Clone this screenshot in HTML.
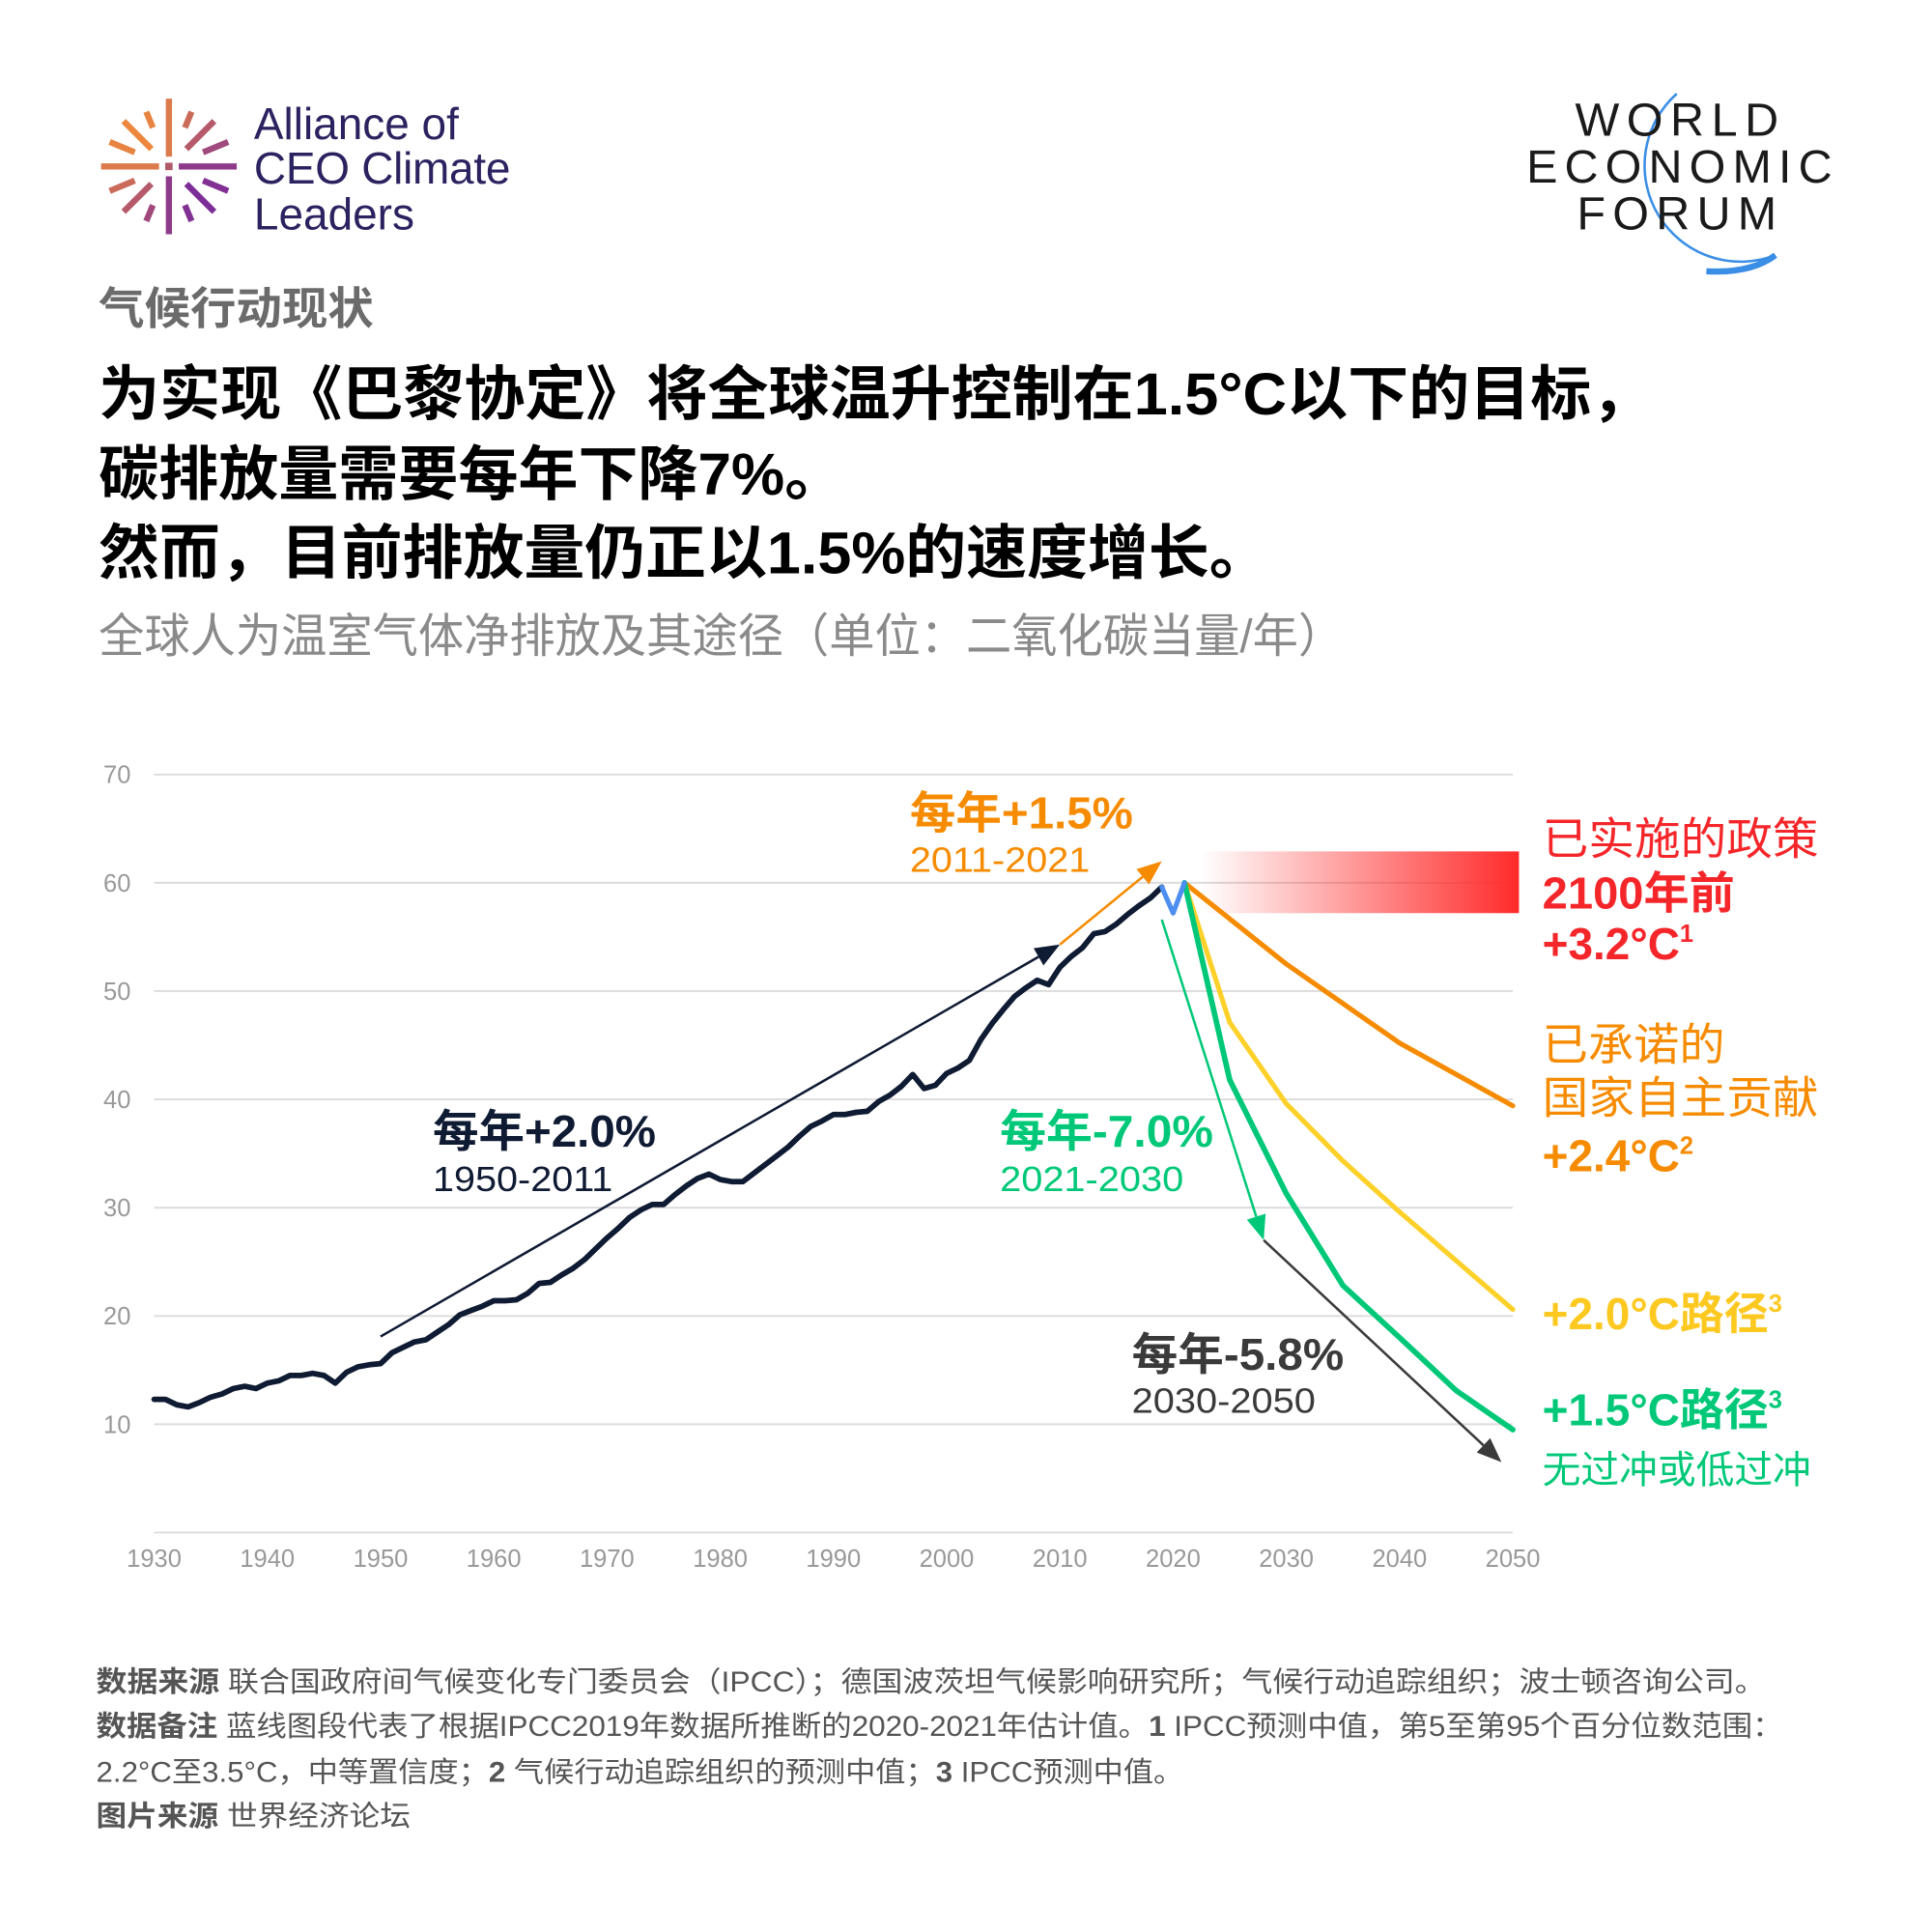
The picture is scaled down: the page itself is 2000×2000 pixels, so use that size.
<!DOCTYPE html>
<html><head><meta charset="utf-8">
<style>
html,body{margin:0;padding:0;background:#fff;}
svg{display:block;}
text{font-family:"Liberation Sans","Noto Sans CJK SC",sans-serif;}
</style></head>
<body>
<svg id="root" width="2000" height="2000" viewBox="0 0 1567 1567" xmlns="http://www.w3.org/2000/svg">
<defs>
<linearGradient id="redgrad" x1="0" y1="0" x2="1" y2="0">
<stop offset="0" stop-color="#ff2a2a" stop-opacity="0"/>
<stop offset="1" stop-color="#ff2a2a" stop-opacity="1"/>
</linearGradient>
</defs>

<g>
<g id="burst"></g>
<text x="206" y="113" font-size="36" fill="#2b2360">Alliance of</text>
<text x="206" y="149" font-size="36" fill="#2b2360" textLength="208">CEO Climate</text>
<text x="206" y="186" font-size="36" fill="#2b2360">Leaders</text>
</g>

<g>
<path d="M1360 76 A 78 78 0 0 0 1440 207" fill="none" stroke="#3a8ee6" stroke-width="2"/>
<path d="M1384 220 Q1420 222 1440 207" fill="none" stroke="#3a8ee6" stroke-width="5"/>
<text x="1360" y="110" font-size="38" fill="#1a1a1a" text-anchor="middle" textLength="165">WORLD</text>
<text x="1362" y="148" font-size="38" fill="#1a1a1a" text-anchor="middle" textLength="248">ECONOMIC</text>
<text x="1360" y="186" font-size="38" fill="#1a1a1a" text-anchor="middle" textLength="162">FORUM</text>
</g>

<text x="80" y="263" font-size="36" font-weight="bold" fill="#6b6b6b" textLength="223" lengthAdjust="spacingAndGlyphs">气候行动现状</text>
<text x="80" y="336" font-size="48" font-weight="bold" fill="#000" textLength="1260" lengthAdjust="spacingAndGlyphs">为实现《巴黎协定》将全球温升控制在1.5°C以下的目标，</text>
<text x="80" y="401" font-size="48" font-weight="bold" fill="#000" textLength="605" lengthAdjust="spacingAndGlyphs">碳排放量需要每年下降7%。</text>
<text x="80" y="465" font-size="48" font-weight="bold" fill="#000" textLength="950" lengthAdjust="spacingAndGlyphs">然而，目前排放量仍正以1.5%的速度增长。</text>
<text x="80" y="529" font-size="38" fill="#8a8a8a" textLength="1010" lengthAdjust="spacingAndGlyphs">全球人为温室气体净排放及其途径（单位：二氧化碳当量/年）</text>

<g id="chart"></g>

<g font-size="23" fill="#555">
<text x="78" y="1372" textLength="1354" lengthAdjust="spacingAndGlyphs"><tspan font-weight="bold">数据来源</tspan> 联合国政府间气候变化专门委员会（IPCC）；德国波茨坦气候影响研究所；气候行动追踪组织；波士顿咨询公司。</text>
<text x="78" y="1408" textLength="1368" lengthAdjust="spacingAndGlyphs"><tspan font-weight="bold">数据备注</tspan> 蓝线图段代表了根据IPCC2019年数据所推断的2020-2021年估计值。<tspan font-weight="bold">1</tspan> IPCC预测中值，第5至第95个百分位数范围：</text>
<text x="78" y="1445" textLength="882" lengthAdjust="spacingAndGlyphs">2.2°C至3.5°C，中等置信度；<tspan font-weight="bold">2</tspan> 气候行动追踪组织的预测中值；<tspan font-weight="bold">3</tspan> IPCC预测中值。</text>
<text x="78" y="1481" textLength="255" lengthAdjust="spacingAndGlyphs"><tspan font-weight="bold">图片来源</tspan> 世界经济论坛</text>
</g>
</svg>

<script>
// ---- chart data ----
const histYears = [1930,1931,1932,1933,1934,1935,1936,1937,1938,1939,1940,1941,1942,1943,1944,1945,1946,1947,1948,1949,1950,1951,1952,1953,1954,1955,1956,1957,1958,1959,1960,1961,1962,1963,1964,1965,1966,1967,1968,1969,1970,1971,1972,1973,1974,1975,1976,1977,1978,1979,1980,1981,1982,1983,1984,1985,1986,1987,1988,1989,1990,1991,1992,1993,1994,1995,1996,1997,1998,1999,2000,2001,2002,2003,2004,2005,2006,2007,2008,2009,2010,2011,2012,2013,2014,2015,2016,2017,2018,2019];
const histValues = [12.3,12.3,11.8,11.6,12.0,12.5,12.8,13.3,13.5,13.3,13.8,14.0,14.5,14.5,14.7,14.5,13.8,14.8,15.3,15.5,15.6,16.6,17.1,17.6,17.8,18.5,19.2,20.1,20.5,20.9,21.4,21.4,21.5,22.1,23.0,23.1,23.8,24.4,25.2,26.2,27.2,28.1,29.1,29.8,30.3,30.3,31.2,32.0,32.7,33.1,32.6,32.4,32.4,33.2,34.0,34.8,35.6,36.6,37.5,38.0,38.6,38.6,38.8,38.9,39.8,40.4,41.2,42.3,41.0,41.3,42.4,42.9,43.6,45.5,47.0,48.3,49.5,50.3,51.0,50.6,52.2,53.2,54.0,55.3,55.5,56.2,57.1,57.9,58.6,59.6];
const estYears = [2019,2020,2021];
const estValues = [59.6,57.2,60.0];
const policyYears = [2021,2030,2040,2050];
const policyValues = [60.0,52.5,45.2,39.4];
const ndcYears = [2021,2025,2030,2035,2040,2050];
const ndcValues = [60.0,47.1,39.6,34.3,29.6,20.6];
const p15Years = [2021,2025,2030,2035,2040,2045,2050];
const p15Values = [60.0,41.8,31.3,22.8,18.0,13.1,9.5];
const yTicks = [10,20,30,40,50,60,70];
const xTicks = [1930,1940,1950,1960,1970,1980,1990,2000,2010,2020,2030,2040,2050];
const trendHist = [1950,18.1,2010,54.3];
const trendRecent = [2010,54.3,2019,62.0];
const trendNear = [2019,56.6,2028,27.0];
const trendLong = [2028,27.0,2049,6.5];

const NS = "http://www.w3.org/2000/svg";
const X0 = 125, X1 = 1227, Y0 = 1243, YPER = 8.783;
function xs(y){ return X0 + (y-1930)*(X1-X0)/120; }
function ys(v){ return Y0 - v*YPER; }
const chart = document.getElementById('chart');
function mk(tag, attrs, parent){ const e=document.createElementNS(NS,tag); for(const k in attrs) e.setAttribute(k,attrs[k]); (parent||chart).appendChild(e); return e; }

yTicks.forEach(t=>{
  const g = mk('line',{x1:X0,x2:X1,y1:ys(t),y2:ys(t),stroke:'#dcdcdc','stroke-width':1.5});
  
  
  const l = mk('text',{x:95,y:ys(t)+7,'font-size':20,fill:'#999','text-anchor':'middle'});
  l.textContent = t;
  
  
});
const base = mk('line',{x1:X0,x2:X1,y1:Y0,y2:Y0,stroke:'#dcdcdc','stroke-width':1.5});


xTicks.forEach(t=>{
  const l = mk('text',{x:xs(t),y:1271,'font-size':20,fill:'#999','text-anchor':'middle'});
  l.textContent = t;
  
  
});

const band = mk('rect',{x:xs(2022.5),y:ys(62.9),width:1232-xs(2022.5),height:ys(57.2)-ys(62.9),fill:'url(#redgrad)'});



function series(yrs, vals, color, w, name){
  const d = yrs.map((y,i)=>(i?'L':'M')+xs(y).toFixed(1)+' '+ys(vals[i]).toFixed(1)).join(' ');
  const p = mk('path',{d:d,fill:'none',stroke:color,'stroke-width':w,'stroke-linejoin':'round','stroke-linecap':'round'});
  
  
}
function arrow(a,color,w,name){
  const x1=xs(a[0]),y1=ys(a[1]),x2=xs(a[2]),y2=ys(a[3]);
  const ang=Math.atan2(y2-y1,x2-x1), L=20, H=8;
  const bx=x2-L*Math.cos(ang), by=y2-L*Math.sin(ang);
  const g = mk('g',{});
  
  
  mk('line',{x1:x1,y1:y1,x2:bx,y2:by,stroke:color,'stroke-width':w},g);
  const pts=[[x2,y2],[bx+H*Math.sin(ang),by-H*Math.cos(ang)],[bx-H*Math.sin(ang),by+H*Math.cos(ang)]].map(p=>p.join(',')).join(' ');
  mk('polygon',{points:pts,fill:color},g);
}

series(policyYears, policyValues, '#f68b00', 4, 'series-current-policies');
series(ndcYears, ndcValues, '#fdd12a', 4, 'series-pledged-ndc');
series(p15Years, p15Values, '#00c878', 4.5, 'series-1-5c-pathway');
arrow(trendHist,'#0f1a33',2,'trend-arrow-1950-2011');
arrow(trendRecent,'#f68b00',2,'trend-arrow-2011-2021');
arrow(trendNear,'#00c878',2,'trend-arrow-2021-2030');
arrow(trendLong,'#3a3a3a',2,'trend-arrow-2030-2050');
series(histYears, histValues, '#0f1a33', 4.5, 'series-historical-emissions');
series(estYears, estValues, '#4d8ef0', 4, 'series-estimated-2020-2021');

function txt(x,y,s,size,color,bold,name,tl){
  const t = mk('text',{x:x,y:y,'font-size':size,fill:color});
  if(bold) t.setAttribute('font-weight','bold');
  if(tl){ t.setAttribute('textLength',tl); t.setAttribute('lengthAdjust','spacingAndGlyphs'); }
  t.innerHTML = s;
  
  
}
txt(738,672,'每年+1.5%',36,'#f68b00',true,'annotation-rate-2011-2021',181);
txt(738,707,'2011-2021',28,'#f68b00',false,'annotation-years-2011-2021',146);
txt(351,930,'每年+2.0%',36,'#0f1a33',true,'annotation-rate-1950-2011',181);
txt(351,966,'1950-2011',28,'#0f1a33',false,'annotation-years-1950-2011',146);
txt(811,930,'每年-7.0%',36,'#00c878',true,'annotation-rate-2021-2030',173);
txt(811,966,'2021-2030',28,'#00c878',false,'annotation-years-2021-2030',149);
txt(918,1111,'每年-5.8%',36,'#3a3a3a',true,'annotation-rate-2030-2050',172);
txt(918,1146,'2030-2050',28,'#3a3a3a',false,'annotation-years-2030-2050',149);
txt(1251,693,'已实施的政策',36,'#f5262a',false,'label-policies-title',224);
txt(1251,737,'2100年前',36,'#f5262a',true,'label-policies-year',156);
txt(1251,778,'+3.2°C<tspan font-size="20" dy="-14">1</tspan>',36,'#f5262a',true,'label-policies-warming');
txt(1251,860,'已承诺的',36,'#f68b00',false,'label-ndc-title-1',148);
txt(1251,903,'国家自主贡献',36,'#f68b00',false,'label-ndc-title-2',224);
txt(1251,950,'+2.4°C<tspan font-size="20" dy="-14">2</tspan>',36,'#f68b00',true,'label-ndc-warming');
txt(1251,1078,'+2.0°C路径<tspan font-size="20" dy="-14">3</tspan>',36,'#fdc921',true,'label-2c-pathway');
txt(1251,1156,'+1.5°C路径<tspan font-size="20" dy="-14">3</tspan>',36,'#00c878',true,'label-1-5c-pathway');
txt(1251,1203,'无过冲或低过冲',31,'#00c878',false,'label-1-5c-note',218);

const burst = document.getElementById('burst');
const cx=137, cy=135;
const rays=[[0,8,55],[22.5,30,52],[45,20,52],[67.5,34,48],[90,8,55],[112.5,34,48],[135,20,52],[157.5,30,52],[180,8,55],[202.5,30,52],[225,20,52],[247.5,34,48],[270,8,55],[292.5,34,48],[315,20,52],[337.5,30,52]];
rays.forEach((r,i)=>{
  const a=r[0]*Math.PI/180;
  const l=document.createElementNS(NS,'line');
  l.setAttribute('x1',cx+r[1]*Math.cos(a)); l.setAttribute('y1',cy+r[1]*Math.sin(a));
  l.setAttribute('x2',cx+r[2]*Math.cos(a)); l.setAttribute('y2',cy+r[2]*Math.sin(a));
  const tt=(Math.sin(a)+Math.cos(a)+1.5)/3;
  const c1=[240,138,60], c2=[122,42,154];
  const col='rgb('+c1.map((v,k)=>Math.round(v+(c2[k]-v)*Math.min(1,Math.max(0,tt)))).join(',')+')';
  l.setAttribute('stroke',col); l.setAttribute('stroke-width',5);
  
  
  burst.appendChild(l);
});
const dot=document.createElementNS(NS,'rect');
dot.setAttribute('x',cx-3);dot.setAttribute('y',cy-3);dot.setAttribute('width',6);dot.setAttribute('height',6);dot.setAttribute('fill','#b05a6a');


burst.appendChild(dot);
</script>
</body></html>
